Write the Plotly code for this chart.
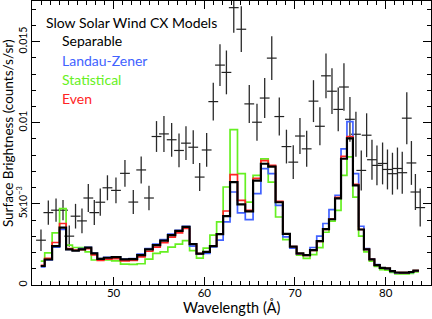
import plotly.graph_objects as go

# ---------------- data ----------------
# wavelength bin centres of the measured spectrum (Angstrom)
data_wave = [41.99, 42.80, 43.65, 44.42, 45.11, 45.80, 46.51, 47.21, 47.87, 48.53,
             49.32, 50.26, 51.25, 52.17, 53.04, 53.90, 54.73, 55.55, 56.40, 57.21,
             57.98, 58.78, 59.49, 60.26, 60.99, 61.73, 62.44, 63.25, 64.08, 64.96,
             65.81, 66.66, 67.44, 68.27, 69.06, 69.81, 70.55, 71.29, 72.04, 72.75,
             73.42, 74.08, 74.77, 75.40, 76.06, 76.72, 77.31, 77.90, 78.49, 79.04,
             79.66, 80.20, 80.75, 81.30, 81.83, 82.33, 82.84, 83.28, 83.81]
# measured surface brightness (counts/s/sr) and 1-sigma errors
data_sb = [0.00276, 0.00446, 0.00461, 0.00461, 0.00301, 0.00424, 0.00395, 0.00536, 0.00446, 0.00510,
           0.00599, 0.00583, 0.00688, 0.00511, 0.00709, 0.00536, 0.00915, 0.00931, 0.00895, 0.00829,
           0.00874, 0.00849, 0.00665, 0.00832, 0.01130, 0.01355, 0.01310, 0.01709, 0.01576, 0.01116,
           0.01003, 0.01152, 0.01398, 0.01038, 0.00853, 0.00757, 0.00918, 0.00839, 0.01133, 0.00978,
           0.01289, 0.01194, 0.01082, 0.01220, 0.01021, 0.00929, 0.00706, 0.00923, 0.00772, 0.00737,
           0.00749, 0.00712, 0.00686, 0.00718, 0.00692, 0.01028, 0.00752, 0.00573, 0.00477]
data_err = [0.00066, 0.00074, 0.00072, 0.00062, 0.00066, 0.00076, 0.00076, 0.00086, 0.00077, 0.00084,
            0.00077, 0.00080, 0.00083, 0.00074, 0.00083, 0.00076, 0.00095, 0.00111, 0.00104, 0.00104,
            0.00104, 0.00104, 0.00086, 0.00104, 0.00117, 0.00129, 0.00135, 0.00154, 0.00141, 0.00117,
            0.00114, 0.00123, 0.00135, 0.00117, 0.00104, 0.00104, 0.00111, 0.00111, 0.00129, 0.00117,
            0.00138, 0.00141, 0.00135, 0.00147, 0.00138, 0.00138, 0.00123, 0.00135, 0.00123, 0.00123,
            0.00129, 0.00123, 0.00129, 0.00129, 0.00129, 0.00160, 0.00135, 0.00111, 0.00117]

# model histogram bin edges (Angstrom)
model_edges = [41.96, 42.40, 43.22, 44.04, 44.76, 45.46, 46.16, 46.86, 47.54, 48.20,
               48.92, 49.79, 50.76, 51.71, 52.60, 53.47, 54.32, 55.14, 55.98, 56.80,
               57.60, 58.38, 59.14, 59.88, 60.62, 61.36, 62.08, 62.84, 63.66, 64.52,
               65.38, 66.24, 67.05, 67.86, 68.66, 69.44, 70.18, 70.92, 71.66, 72.40,
               73.08, 73.75, 74.42, 75.08, 75.73, 76.39, 77.02, 77.60, 78.20, 78.76,
               79.35, 79.93, 80.48, 81.02, 81.56, 82.08, 82.58, 83.06, 83.67]

separable = [0.00117, 0.00157, 0.00239, 0.00353, 0.00219, 0.00211, 0.00219, 0.00230, 0.00195, 0.00161,
             0.00168, 0.00172, 0.00158, 0.00160, 0.00184, 0.00219, 0.00246, 0.00273, 0.00307, 0.00333,
             0.00358, 0.00252, 0.00193, 0.00204, 0.00239, 0.00313, 0.00424, 0.00634, 0.00497, 0.00454,
             0.00643, 0.00747, 0.00729, 0.00510, 0.00315, 0.00236, 0.00195, 0.00184, 0.00215, 0.00270,
             0.00344, 0.00405, 0.00534, 0.00778, 0.00904, 0.00614, 0.00342, 0.00219, 0.00158, 0.00123,
             0.00106, 0.00103, 0.00086, 0.00077, 0.00076, 0.00076, 0.00080, 0.00089]
landau_zener = [0.00111, 0.00154, 0.00233, 0.00342, 0.00219, 0.00213, 0.00225, 0.00232, 0.00197, 0.00163,
                0.00170, 0.00173, 0.00160, 0.00162, 0.00190, 0.00225, 0.00252, 0.00279, 0.00313, 0.00337,
                0.00362, 0.00240, 0.00190, 0.00195, 0.00235, 0.00276, 0.00389, 0.00573, 0.00444, 0.00403,
                0.00563, 0.00717, 0.00686, 0.00491, 0.00297, 0.00227, 0.00190, 0.00184, 0.00231, 0.00301,
                0.00379, 0.00465, 0.00553, 0.00839, 0.01007, 0.00686, 0.00362, 0.00225, 0.00160, 0.00125,
                0.00106, 0.00101, 0.00084, 0.00075, 0.00074, 0.00074, 0.00078, 0.00087]
statistical = [0.00147, 0.00198, 0.00321, 0.00471, 0.00246, 0.00231, 0.00231, 0.00204, 0.00154, 0.00154,
               0.00154, 0.00149, 0.00129, 0.00127, 0.00131, 0.00160, 0.00195, 0.00204, 0.00233, 0.00252,
               0.00273, 0.00212, 0.00166, 0.00227, 0.00307, 0.00389, 0.00604, 0.00958, 0.00686, 0.00511,
               0.00675, 0.00777, 0.00634, 0.00419, 0.00279, 0.00227, 0.00184, 0.00164, 0.00187, 0.00230,
               0.00325, 0.00393, 0.00460, 0.00675, 0.00789, 0.00542, 0.00301, 0.00204, 0.00147, 0.00114,
               0.00095, 0.00092, 0.00077, 0.00068, 0.00068, 0.00068, 0.00071, 0.00080]
even = [0.00121, 0.00164, 0.00262, 0.00379, 0.00224, 0.00215, 0.00218, 0.00224, 0.00186, 0.00152,
        0.00159, 0.00163, 0.00149, 0.00151, 0.00173, 0.00208, 0.00234, 0.00261, 0.00295, 0.00321,
        0.00348, 0.00252, 0.00193, 0.00204, 0.00239, 0.00313, 0.00456, 0.00680, 0.00522, 0.00460,
        0.00657, 0.00767, 0.00737, 0.00516, 0.00315, 0.00236, 0.00193, 0.00182, 0.00213, 0.00268,
        0.00343, 0.00406, 0.00540, 0.00792, 0.00915, 0.00620, 0.00342, 0.00219, 0.00158, 0.00123,
        0.00106, 0.00103, 0.00086, 0.00077, 0.00076, 0.00076, 0.00080, 0.00089]

x_ticks = [50, 60, 70, 80]
y_tickvals = [0, 0.005, 0.01, 0.015]
y_ticktext = ["0", "5x10<sup>−3</sup>", "0.01", "0.015"]

x_title = "Wavelength (Å)"
y_title = "Surface Brightness (counts/s/sr)"
legend_title = "Slow Solar Wind CX Models"
model_names = ["Separable", "Landau-Zener", "Statistical", "Even"]

# ---------------- styles ----------------
FONT = "Lato"
C_BLACK = "#000000"
C_BLUE = "#4162ff"
C_GREEN = "#66f022"
C_RED = "#ff2424"

fig = go.Figure()

# measured spectrum with error bars
fig.add_trace(go.Scatter(
    x=data_wave, y=data_sb, mode="markers",
    marker=dict(symbol="line-ew", size=7, color="#222222",
                line=dict(width=1.2, color="#222222")),
    error_y=dict(type="data", array=data_err, visible=True, width=0,
                 thickness=1.3, color="#2a2a2a"),
    showlegend=False, hoverinfo="skip"))


def step(values, color, width):
    fig.add_trace(go.Scatter(
        x=model_edges, y=list(values) + [values[-1]], mode="lines",
        line=dict(shape="hv", color=color, width=width),
        showlegend=False, hoverinfo="skip"))


step(statistical, C_GREEN, 1.7)
step(landau_zener, C_BLUE, 1.7)
step(even, C_RED, 1.7)
step(separable, C_BLACK, 2.2)

# legend as text
annots = [dict(xref="x domain", yref="y domain", x=0.03, y=0.925, text=legend_title,
               font=dict(size=14, color=C_BLACK, family=FONT),
               showarrow=False, xanchor="left", yanchor="middle")]
colors = [C_BLACK, C_BLUE, C_GREEN, C_RED]
ys = [0.86, 0.79, 0.722, 0.655]
for name, col, yy in zip(model_names, colors, ys):
    annots.append(dict(xref="x domain", yref="y domain", x=0.07, y=yy, text=name,
                       font=dict(size=14, color=col, family=FONT),
                       showarrow=False, xanchor="left", yanchor="middle"))
# axis titles
annots.append(dict(xref="x domain", yref="y domain", x=0.502, y=-0.077, text=x_title,
                   font=dict(size=14.5, color="black", family=FONT),
                   showarrow=False, xanchor="center", yanchor="middle"))
annots.append(dict(xref="x domain", yref="y domain", x=-0.06, y=0.535, text=y_title,
                   textangle=-90, font=dict(size=13.5, color="black", family=FONT),
                   showarrow=False, xanchor="center", yanchor="middle"))
fig.update_layout(annotations=annots)

fig.update_layout(
    width=432, height=319,
    margin=dict(l=32, r=1, t=1, b=34),
    paper_bgcolor="white", plot_bgcolor="white",
    font=dict(family=FONT, color="black", size=11),
    xaxis=dict(range=[41, 85], tickvals=x_ticks, ticks="inside", ticklen=8,
               tickwidth=1, tickcolor="black", showline=True, linecolor="black",
               linewidth=1, mirror="allticks", showgrid=False, zeroline=False,
               minor=dict(dtick=1, tick0=0, ticks="inside", ticklen=4,
                          tickcolor="black", showgrid=False),
               tickfont=dict(size=11.5), ticklabelstandoff=-3),
    yaxis=dict(range=[0, 0.0175], tickvals=y_tickvals, ticktext=y_ticktext,
               tickangle=-90, ticks="inside", ticklen=8, tickwidth=1,
               tickcolor="black", showline=True, linecolor="black", linewidth=1,
               mirror="allticks", showgrid=False, zeroline=False,
               minor=dict(dtick=0.001, tick0=0, ticks="inside", ticklen=4,
                          tickcolor="black", showgrid=False),
               tickfont=dict(size=10.5)),
)

fig.write_html("out.html", config={"displayModeBar": False},
               post_script="document.body.style.margin='0';document.body.style.overflow='hidden';")
